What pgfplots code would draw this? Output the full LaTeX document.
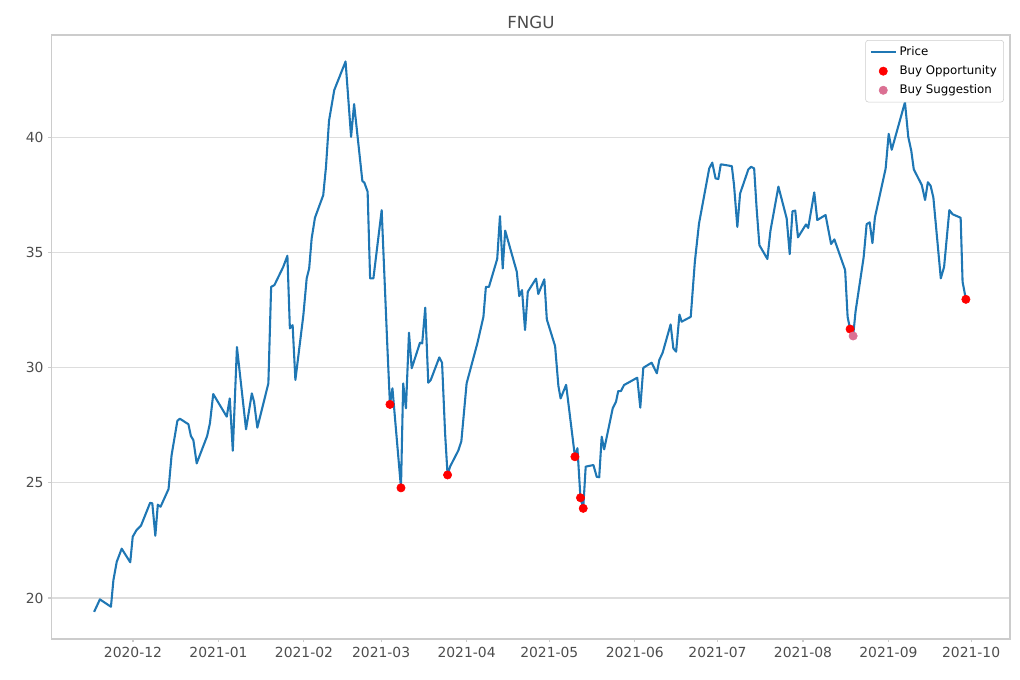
\documentclass[border=0pt]{standalone}
\usepackage{pgfplots}
\pgfplotsset{compat=1.18}
\usepackage{fontspec}
\setmainfont{DejaVu Sans}

\definecolor{mplblue}{HTML}{1F77B4}
\definecolor{edge}{HTML}{CCCCCC}
\definecolor{gridc}{HTML}{DDDDDD}
\definecolor{txt}{HTML}{4D4D4D}
\definecolor{sugg}{HTML}{DB7093}

% x = days since 2020-12-01
\pgfplotstableread{
d p
-14.1 19.40
-12.0 19.94
-8.0 19.62
-7.1 20.78
-5.9 21.57
-4.1 22.14
-1.0 21.55
-0.1 22.66
1.3 22.95
2.9 23.14
6.2 24.13
7.0 24.11
8.1 22.70
9.0 24.05
10.0 23.96
12.9 24.73
14.0 26.20
16.1 27.69
17.0 27.78
20.1 27.54
21.0 27.03
21.9 26.85
23.1 25.84
26.9 27.03
27.9 27.58
29.1 28.85
34.0 27.87
35.1 28.66
36.2 26.39
37.7 30.89
41.0 27.32
43.1 28.88
43.9 28.52
45.1 27.39
49.1 29.31
50.1 33.50
51.3 33.58
54.5 34.37
56.0 34.85
56.9 31.70
57.9 31.84
58.9 29.46
61.8 32.28
63.0 33.87
63.9 34.30
64.8 35.60
66.0 36.50
69.0 37.48
70.0 38.71
71.1 40.71
73.0 42.04
77.1 43.28
79.1 40.01
80.2 41.43
83.2 38.09
83.9 38.03
85.1 37.63
86.0 33.87
87.2 33.87
90.2 36.83
92.3 30.80
93.2 28.40
94.1 29.10
97.2 24.78
98.0 29.31
99.0 28.23
100.1 31.51
101.1 29.97
104.1 31.08
104.9 31.05
106.0 32.60
107.1 29.34
108.0 29.46
111.1 30.44
112.1 30.21
113.2 27.15
114.1 25.34
115.0 25.70
118.0 26.40
119.1 26.80
121.0 29.31
124.9 31.05
127.1 32.20
128.0 33.50
129.1 33.50
132.1 34.71
133.1 36.57
134.1 34.30
135.0 35.94
139.2 34.16
140.1 33.10
141.1 33.36
142.2 31.63
143.2 33.29
146.2 33.86
147.0 33.19
149.2 33.83
150.1 32.09
153.1 30.93
154.3 29.20
155.1 28.66
157.1 29.25
160.3 26.13
161.2 26.50
162.3 24.35
163.3 23.89
164.2 25.70
167.0 25.77
168.2 25.26
169.1 25.24
170.0 27.00
170.9 26.45
174.0 28.23
175.2 28.52
176.0 28.98
177.0 28.98
178.1 29.24
182.9 29.56
184.0 28.26
185.1 29.99
188.1 30.21
190.0 29.75
190.9 30.33
192.1 30.64
195.0 31.87
196.0 30.83
197.0 30.69
198.2 32.30
199.0 31.99
202.3 32.20
203.8 34.60
205.3 36.25
209.0 38.64
210.1 38.89
211.3 38.21
212.3 38.18
213.2 38.82
217.2 38.74
218.0 37.92
219.2 36.10
220.2 37.55
223.2 38.60
224.2 38.71
225.3 38.64
226.2 36.90
227.2 35.31
230.1 34.71
231.2 35.93
234.1 37.85
237.1 36.47
238.2 34.92
239.2 36.78
240.2 36.81
241.2 35.65
244.1 36.21
244.9 36.06
247.1 37.60
248.2 36.40
251.2 36.62
253.2 35.36
254.4 35.56
258.3 34.23
259.2 32.20
260.1 31.67
261.2 31.37
262.1 32.45
265.0 34.77
266.1 36.22
267.2 36.30
268.2 35.40
269.1 36.51
273.0 38.64
274.1 40.14
275.2 39.45
280.0 41.51
281.2 40.01
282.3 39.40
283.2 38.60
286.1 37.92
287.3 37.27
288.3 38.04
289.3 37.89
290.3 37.38
293.0 33.87
294.2 34.37
296.1 36.83
297.3 36.65
300.2 36.50
300.9 33.72
302.1 32.96
}\price

\begin{document}
\begin{tikzpicture}
\path[use as bounding box] (-37.4pt,-29.5pt) rectangle (697pt,460.1pt);
\begin{axis}[
    at={(0,0)}, anchor=south west,
    scale only axis,
    width=689.8pt, height=434.9pt,
    xmin=-29.4, xmax=318.1,
    ymin=18.22, ymax=44.43,
    xtick={0,31,62,90,121,151,182,212,243,274,304},
    xticklabels={2020-12,2021-01,2021-02,2021-03,2021-04,2021-05,2021-06,2021-07,2021-08,2021-09,2021-10},
    ytick={20,25,30,35,40},
    ymajorgrids,
    grid style={gridc, line width=0.8pt},
    axis line style={edge, line width=0.8pt},
    tick style={edge, line width=0.8pt},
    tick align=outside,
    major tick length=2.5pt,
    xtick pos=bottom, ytick pos=left,
    ticklabel style={font=\fontsize{10}{12}\selectfont, text=txt},
    /pgf/number format/assume math mode=true,
    title={FNGU},
    title style={font=\fontsize{12}{14}\selectfont, text=txt, at={(0.5,1)}, anchor=base, yshift=-1.5pt},
    legend style={at={(0.9937,0.9917)}, anchor=north east,
        draw=edge, fill=white,
        rounded corners=2pt, font=\fontsize{8.5}{10}\selectfont,
        row sep=1.8pt, inner xsep=3pt, inner ysep=2.5pt},
    legend image code/.code={
        \draw[mark repeat=2,mark phase=2] plot coordinates {(0pt,0pt) (9pt,0pt) (18pt,0pt)};},
    legend cell align=left,
]
\addplot[mplblue, line width=1.5pt, line join=round] table[x=d, y=p] {\price};
\addlegendentry{Price}
\addplot[only marks, mark=*, mark size=3pt, draw=red, fill=red] coordinates {
    (93.2,28.40) (97.2,24.78) (114.1,25.34) (160.3,26.13)
    (162.3,24.35) (163.3,23.89) (260.1,31.67) (302.1,32.96)
};
\addlegendentry{Buy Opportunity}
\addplot[only marks, mark=*, mark size=3pt, draw=sugg, fill=sugg] coordinates {
    (261.2,31.37)
};
\addlegendentry{Buy Suggestion}
\end{axis}
\end{tikzpicture}
\end{document}
